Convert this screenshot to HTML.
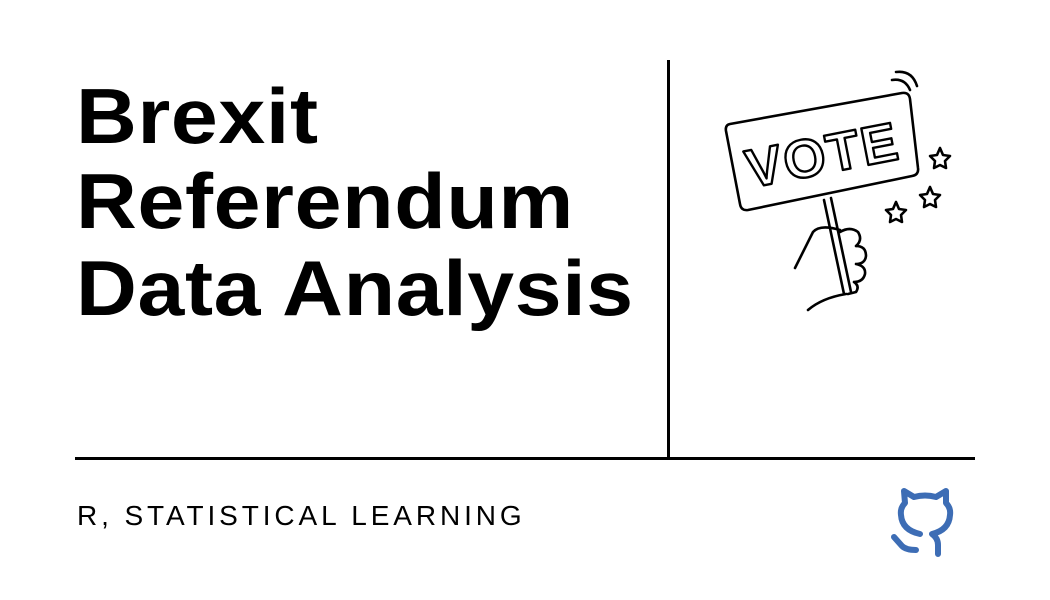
<!DOCTYPE html>
<html><head><meta charset="utf-8"><style>
html,body{margin:0;padding:0;background:#fff;}
#root{position:relative;width:1050px;height:600px;overflow:hidden;background:#fff;}
.title{position:absolute;left:76px;font-family:"Liberation Sans",sans-serif;font-weight:bold;font-size:78px;letter-spacing:0.6px;color:#000;line-height:1;white-space:nowrap;transform:scaleX(1.08);transform-origin:0 0;}
.sub{position:absolute;left:77px;top:502px;font-family:"Liberation Sans",sans-serif;font-size:28px;letter-spacing:3.9px;color:#000;line-height:1;white-space:nowrap;}
</style></head><body>
<div id="root">
<div class="title" style="top:77px">Brexit</div>
<div class="title" style="top:162px">Referendum</div>
<div class="title" style="top:249px">Data Analysis</div>
<div style="position:absolute;left:667px;top:60px;width:3px;height:399px;background:#000"></div>
<div style="position:absolute;left:75px;top:457px;width:900px;height:3px;background:#000"></div>
<div class="sub">R, STATISTICAL LEARNING</div>
<svg style="position:absolute;left:700px;top:60px" width="280" height="260" viewBox="0 0 280 260" fill="none" stroke="#000" stroke-width="2.6" stroke-linecap="round" stroke-linejoin="round">
<path d="M30 64 L202 33 Q209 32 210 39 L218 108 Q219 115 212 116 L48 150 Q41 151 40 144 L26 71 Q25 65 30 64 Z"/>
<text x="0" y="0" transform="translate(50 128) rotate(-11)" font-family="Liberation Sans,sans-serif" font-weight="bold" font-size="54" fill="#fff" stroke="#000" stroke-width="2.4" letter-spacing="2">VOTE</text>
<path d="M192 20 Q205 18 210 30 M196 12 Q212 10 217 26"/>
<path d="M124 140 L144 234 M131 138 L151 232"/>
<path d="M95 208 Q104 190 113 172 Q120 164 140 170"/>
<path d="M140 172 Q150 166 158 172 Q163 180 156 186 M156 186 Q166 186 166 196 Q165 204 156 204 M156 204 Q166 206 165 214 Q163 222 154 222 M154 222 Q160 226 156 232 L148 234"/>
<path d="M108 250 Q122 238 146 234"/>
<path d="M240 88 l3 7 7 1 -5 5 1 7 -6 -3 -6 3 1 -7 -5 -5 7 -1 z"/>
<path d="M230 127 l3 7 7 1 -5 5 1 7 -6 -3 -6 3 1 -7 -5 -5 7 -1 z"/>
<path d="M196 142 l3 7 7 1 -5 5 1 7 -6 -3 -6 3 1 -7 -5 -5 7 -1 z"/>
</svg>
<svg style="position:absolute;left:880px;top:480px" width="90" height="80" viewBox="0 0 90 80" fill="none" stroke="#3d6db5" stroke-width="6" stroke-linecap="round" stroke-linejoin="round">
<path d="M40 54 Q22 50 21 35 Q20 28 25 23 L24 11 L34 17 Q45 14 56 17 L66 11 L66 23 Q71 28 70 35 Q69 50 52 54 Q58 58 58 65 L58 74"/>
<path d="M14 57 L22 66 Q26 70 36 70"/>
</svg>
</div>
</body></html>
